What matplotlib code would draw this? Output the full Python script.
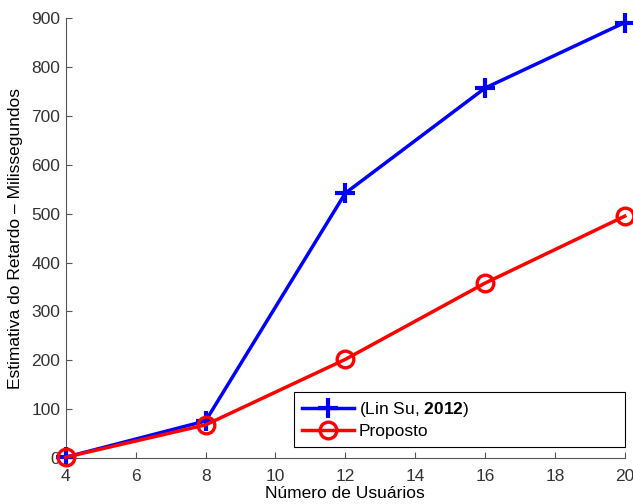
import matplotlib
matplotlib.use('Agg')
import matplotlib.pyplot as plt

# dados do grafico
usuarios = [4, 8, 12, 16, 20]
lin_su = [2, 76, 542, 757, 891]
proposto = [2, 68, 202, 358, 495]

plt.rcParams['font.family'] = ['Liberation Sans', 'DejaVu Sans']
plt.rcParams['mathtext.fontset'] = 'custom'
plt.rcParams['mathtext.bf'] = 'Liberation Sans:bold'
plt.rcParams['mathtext.rm'] = 'Liberation Sans'

fs = 12.5
fig = plt.figure(figsize=(6.33, 5.04), dpi=100)
ax = fig.add_axes([0.104, 0.091, 0.883, 0.873])

ax.plot(usuarios, lin_su, color='#0000ff', linewidth=2.5, marker='+',
        markersize=14, markeredgewidth=3, clip_on=False, zorder=3,
        label=r'(Lin Su, $\mathbf{2012}$)')
ax.plot(usuarios, proposto, color='#ff0000', linewidth=2.5, marker='o',
        markersize=12, markeredgewidth=2.4, markerfacecolor='none',
        clip_on=False, zorder=3, label='Proposto')

ax.set_xlim(4, 20)
ax.set_ylim(0, 900)
ax.set_xticks(range(4, 21, 2))
ax.set_yticks(range(0, 901, 100))
ax.spines['top'].set_visible(False)
ax.spines['right'].set_visible(False)
for s in ['left', 'bottom']:
    ax.spines[s].set_color('#555555')
ax.tick_params(direction='in', length=4, colors='#555555', labelcolor='#333333',
               labelsize=fs)
ax.tick_params(axis='x', pad=8)
ax.tick_params(axis='y', pad=4)

ax.set_xlabel('Número de Usuários', fontsize=fs, labelpad=1)
ax.set_ylabel('Estimativa do Retardo – Milissegundos', fontsize=fs, labelpad=6)

leg = ax.legend(loc='lower left', bbox_to_anchor=(0.408, 0.025, 0.592, 0.12),
                mode='expand', fontsize=fs, handlelength=3.0, fancybox=False,
                framealpha=1, borderpad=0.45, labelspacing=0.3, handletextpad=0.3,
                borderaxespad=0)
leg.get_frame().set_edgecolor('black')
leg.get_frame().set_linewidth(0.8)

fig.savefig('out.png', dpi=100)
